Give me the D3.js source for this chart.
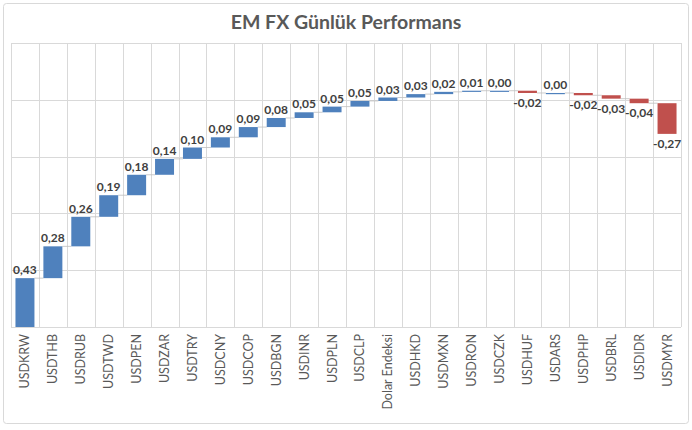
<!DOCTYPE html>
<html lang="tr">
<head>
  <meta charset="UTF-8">
  <title>EM FX Günlük Performans</title>
  <script src="https://d3js.org/d3.v7.min.js"></script>
  <style>
    body { margin: 0; background: #fff; }
    svg { display: block; font-family: Lato, "Open Sans", sans-serif; }
  </style>
</head>
<body>
  <svg width="692" height="430"></svg>
  <script>
    const categories = ["USDKRW", "USDTHB", "USDRUB", "USDTWD", "USDPEN", "USDZAR", "USDTRY", "USDCNY",
      "USDCOP", "USDBGN", "USDINR", "USDPLN", "USDCLP", "Dolar Endeksi", "USDHKD", "USDMXN", "USDRON",
      "USDCZK", "USDHUF", "USDARS", "USDPHP", "USDBRL", "USDIDR", "USDMYR"];
    const values = [0.43, 0.28, 0.26, 0.19, 0.18, 0.14, 0.10, 0.09, 0.09, 0.08, 0.05, 0.05, 0.05, 0.03,
      0.03, 0.02, 0.01, 0.00, -0.02, 0.00, -0.02, -0.03, -0.04, -0.27];
    const gridTicks = [0, 0.5, 1, 1.5, 2, 2.5];

    const svg = d3.select("svg");
    const plotL = 11, plotR = 681, plotT = 43, plotB = 327;

    // outer frame
    svg.append("rect")
      .attr("x", 3.5).attr("y", 3.5)
      .attr("width", 685).attr("height", 420)
      .attr("rx", 3)
      .attr("fill", "#fff")
      .attr("stroke", "#d9d9d9");

    svg.append("text")
      .attr("x", 346).attr("y", 29)
      .attr("text-anchor", "middle")
      .attr("font-size", 19.5)
      .attr("font-weight", "bold")
      .attr("fill", "#595959")
      .text("EM FX Günlük Performans");

    const x = d3.scaleBand().domain(categories).range([plotL, plotR]).paddingInner(0.32).paddingOuter(0.16);
    const y = d3.scaleLinear().domain([0, 2.5]).range([plotB, plotT]);

    // running totals for the waterfall
    let run = 0;
    const steps = categories.map((c, i) => {
      const start = run;
      run += values[i];
      return { name: c, value: values[i], start: start, end: run };
    });

    // grid
    svg.append("g").selectAll("line")
      .data(gridTicks)
      .join("line")
      .attr("x1", plotL).attr("x2", plotR)
      .attr("y1", d => Math.round(y(d)) + 0.5).attr("y2", d => Math.round(y(d)) + 0.5)
      .attr("stroke", "#d9d9d9");

    const step = x.step();
    const edges = d3.range(categories.length + 1).map(i => plotL + i * step);
    svg.append("g").selectAll("line")
      .data(edges)
      .join("line")
      .attr("x1", d => Math.round(d) + 0.5).attr("x2", d => Math.round(d) + 0.5)
      .attr("y1", plotT).attr("y2", plotB)
      .attr("stroke", "#d9d9d9");

    // connectors
    svg.append("g").selectAll("line")
      .data(steps.slice(0, -1))
      .join("line")
      .attr("x1", d => x(d.name) + x.bandwidth())
      .attr("x2", (d, i) => x(categories[i + 1]))
      .attr("y1", d => y(d.end)).attr("y2", d => y(d.end))
      .attr("stroke", "#bfbfbf")
      .attr("stroke-width", 0.8);

    // bars
    svg.append("g").selectAll("rect")
      .data(steps)
      .join("rect")
      .attr("x", d => x(d.name))
      .attr("width", x.bandwidth())
      .attr("y", d => y(Math.max(d.start, d.end)))
      .attr("height", d => Math.max(1.2, Math.abs(y(d.start) - y(d.end))))
      .attr("fill", d => d.value < 0 ? "#c0504d" : "#4f81bd");

    // value labels
    const fmt = v => v.toFixed(2).replace(".", ",");
    svg.append("g").selectAll("text")
      .data(steps)
      .join("text")
      .attr("x", d => x(d.name) + x.bandwidth() / 2)
      .attr("y", d => d.value < 0 ? y(d.end) + 14 : y(d.end) - 4)
      .attr("text-anchor", "middle")
      .attr("font-size", 12)
      .attr("font-weight", "bold")
      .attr("fill", "#404040")
      .text(d => fmt(d.value));

    // category labels
    svg.append("g").selectAll("text")
      .data(categories)
      .join("text")
      .attr("transform", d => `translate(${x(d) + x.bandwidth() / 2 + 4.5},334) rotate(-90)`)
      .attr("text-anchor", "end")
      .attr("font-size", 12.5)
      .attr("fill", "#595959")
      .text(d => d);
  </script>
</body>
</html>
